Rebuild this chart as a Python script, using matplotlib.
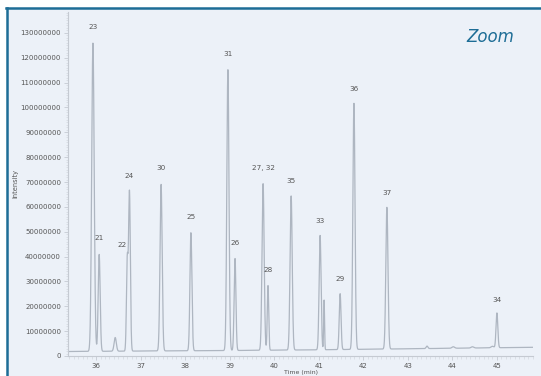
import numpy as np
import matplotlib
matplotlib.use("Agg")
import matplotlib.pyplot as plt
from matplotlib.patches import Rectangle
from matplotlib.lines import Line2D
from matplotlib.ticker import MultipleLocator, FuncFormatter

# Peak table: retention time (min), apex intensity, width (min), label
peak_times = [35.93, 36.07, 36.43, 36.70, 36.75, 37.46, 38.13, 38.96, 39.12,
              39.75, 39.86, 40.38, 41.03, 41.12, 41.48, 41.79, 42.53, 45.00,
              43.43, 44.02, 44.45, 44.90]
peak_heights = [124e6, 39e6, 5.5e6, 36e6, 64e6, 67e6, 47.5e6, 113e6, 37e6,
                67e6, 26e6, 62e6, 46e6, 20e6, 22.5e6, 99e6, 57e6, 14e6,
                1.0e6, 0.6e6, 0.5e6, 0.6e6]
peak_widths = [0.028, 0.022, 0.025, 0.018, 0.02, 0.024, 0.022, 0.024, 0.02,
               0.024, 0.016, 0.024, 0.022, 0.01, 0.02, 0.024, 0.024, 0.02,
               0.02, 0.03, 0.03, 0.03]
peak_labels = ["23", "21", "", "22", "24", "30", "25", "31", "26",
               "27, 32", "28", "35", "33", "", "29", "36", "37", "34",
               "", "", "", ""]

# Baseline drift anchors (min, intensity)
base_t = [35.37, 37.0, 39.0, 41.0, 43.0, 45.81]
base_v = [1.8e6, 2.0e6, 2.2e6, 2.5e6, 2.9e6, 3.5e6]

x_ticks = [36, 37, 38, 39, 40, 41, 42, 43, 44, 45]

W, H = 541, 376
fig = plt.figure(figsize=(W / 100, H / 100), dpi=100)
fig.patch.set_facecolor("white")

# panel background and frame
fig.patches.append(Rectangle((7 / W, 0), 1, 1 - 8 / H, transform=fig.transFigure,
                             facecolor="#ecf1f8", edgecolor="none", zorder=-10))
fig.lines.append(Line2D([7 / W, 7 / W], [0, 1 - 7.5 / H], transform=fig.transFigure,
                        color="#1d6d96", lw=1.8))
fig.lines.append(Line2D([6 / W, 1], [1 - 8 / H, 1 - 8 / H], transform=fig.transFigure,
                        color="#1d6d96", lw=1.8))

ax = fig.add_axes([68 / W, 1 - 356 / H, (533 - 68) / W, (356 - 12) / H])
ax.set_facecolor("none")

t = np.linspace(35.37, 45.81, 8000)
signal = np.interp(t, base_t, base_v)
for pt, ph, pw in zip(peak_times, peak_heights, peak_widths):
    signal = signal + ph * np.exp(-0.5 * ((t - pt) / pw) ** 2)

ax.plot(t, signal, color="#aeb6c1", lw=0.9)

for pt, ph, lab in zip(peak_times, peak_heights, peak_labels):
    if lab:
        dx = -3.5 if lab == "22" else 0
        ax.annotate(lab, (pt, ph), xytext=(dx, 13), textcoords="offset points",
                    ha="center", va="bottom", fontsize=5.2, color="#555555")

ax.set_xlim(35.37, 45.81)
ax.set_ylim(0, 138.4e6)
ax.set_xticks(x_ticks)
ax.xaxis.set_minor_locator(MultipleLocator(0.1))
ax.yaxis.set_major_locator(MultipleLocator(10e6))
ax.yaxis.set_minor_locator(MultipleLocator(1e6))
ax.yaxis.set_major_formatter(FuncFormatter(lambda v, p: f"{int(round(v))}"))

for s in ["top", "right"]:
    ax.spines[s].set_visible(False)
for s in ["left", "bottom"]:
    ax.spines[s].set_color("#c5cad2")
    ax.spines[s].set_linewidth(0.8)

ax.tick_params(axis="both", which="major", length=3, width=0.6, color="#c5cad2",
               labelsize=5.0, labelcolor="#555555", pad=2)
ax.tick_params(axis="both", which="minor", length=1.8, width=0.4, color="#cdd2d9")

ax.set_ylabel("Intensity", fontsize=4.8, color="#555555")
ax.yaxis.set_label_coords((18 - 68) / 465, 0.5)
ax.set_xlabel("Time (min)", fontsize=4.5, color="#555555")
ax.xaxis.set_label_coords(0.5, -(370 - 356) / 344)

fig.text(490 / W, 1 - 37 / H, "Zoom", fontsize=12, style="italic",
         color="#1d6d96", ha="center", va="center")

fig.savefig("out.png", dpi=100, facecolor=fig.get_facecolor())
